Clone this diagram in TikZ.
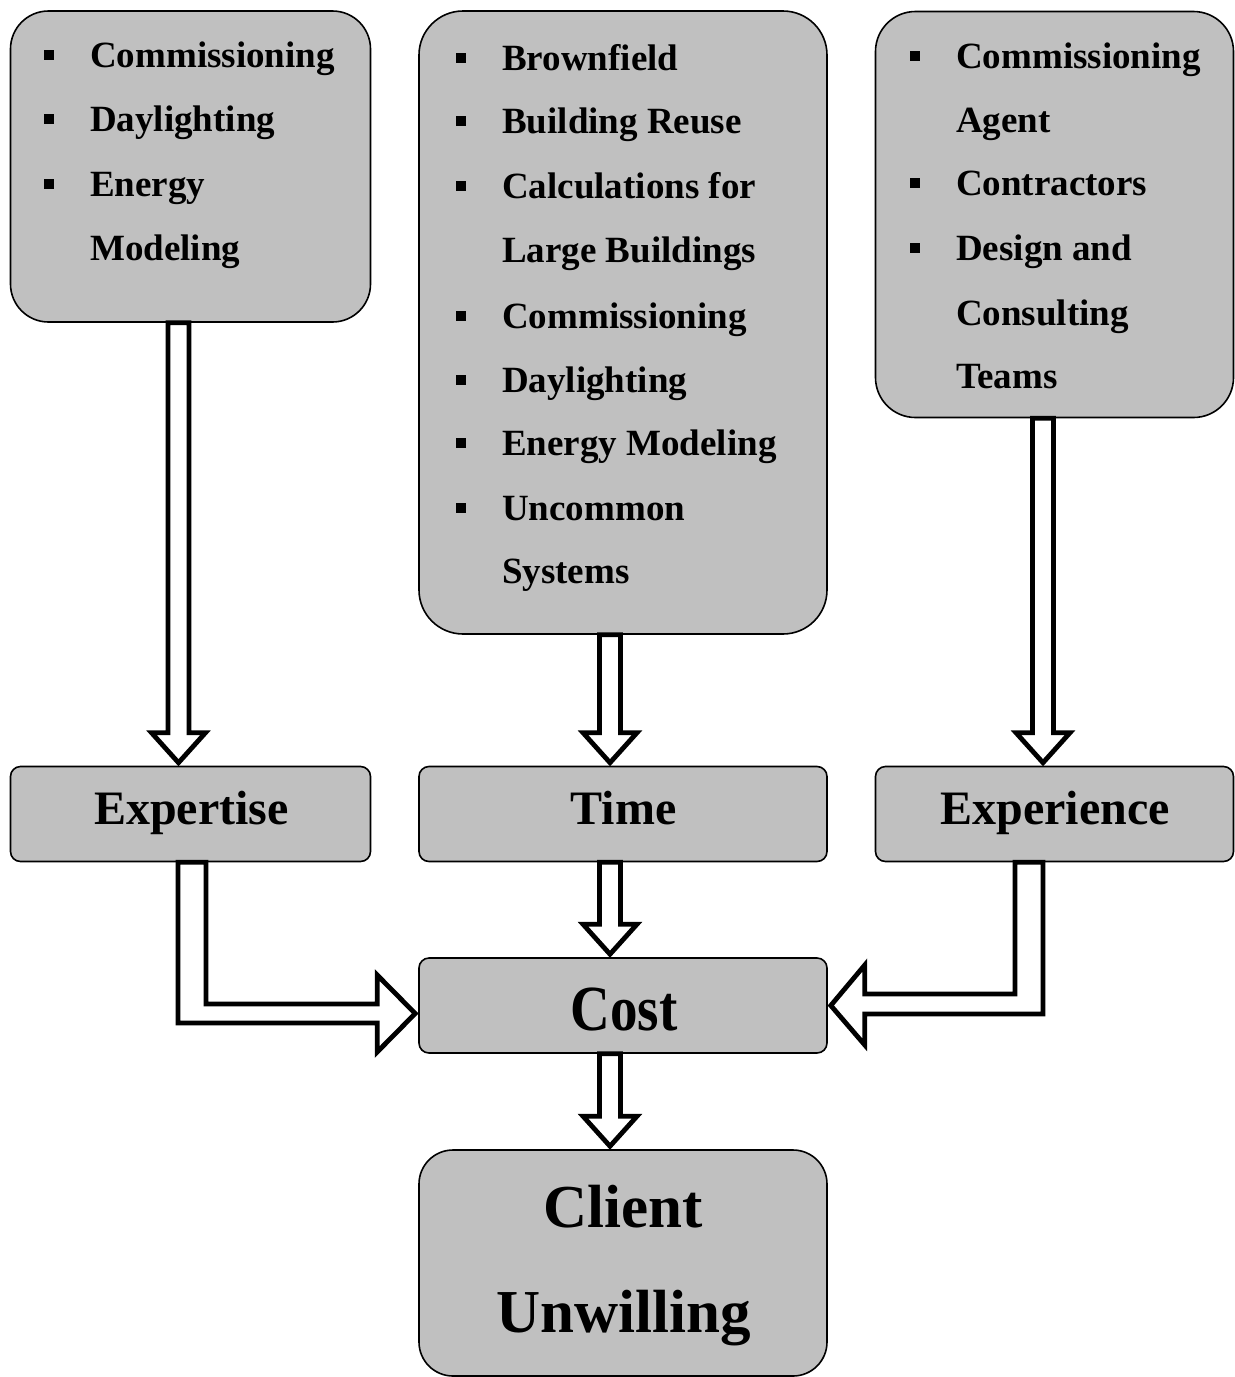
\documentclass[tikz,border=0pt]{standalone}
\usepackage{fontspec}
\usepackage{graphicx}
\setmainfont{Liberation Serif}
\usetikzlibrary{calc}
\definecolor{boxgray}{RGB}{192,192,192}
\tikzset{
  box/.style={draw=black, fill=boxgray, line width=1.6pt, inner sep=0pt, rectangle},
  txt/.style={anchor=base west, inner sep=0pt, font=\fontsize{37}{44}\selectfont\bfseries},
  bul/.style={fill=black, minimum size=9.5pt, inner sep=0pt, rectangle},
  big/.style={anchor=base, inner sep=0pt, font=\fontsize{48}{56}\selectfont\bfseries},
  hollow/.style={draw=black, fill=white, line width=4.8pt, line join=miter, miter limit=10},
}
\newcommand\vhollow[3]{%
  \draw[hollow] ($(#1.south)+(#3-10.5,0)$) -- ($(#2.north)+(#3-10.5,-33)$)
    -- ($(#2.north)+(#3-27,-33)$) -- ($(#2.north)+(#3,-3)$)
    -- ($(#2.north)+(#3+27,-33)$) -- ($(#2.north)+(#3+10.5,-33)$)
    -- ($(#1.south)+(#3+10.5,0)$) -- cycle;}
\begin{document}
\begin{tikzpicture}[x=1pt,y=-1pt]
\useasboundingbox (0,0) rectangle (1235,1377);
% boxes
\node[box, rounded corners=38pt, minimum width=360pt, minimum height=311pt] (tl) at (190.5,166.5) {};
\node[box, rounded corners=44pt, minimum width=408pt, minimum height=623pt] (tm) at (623,322.5) {};
\node[box, rounded corners=40pt, minimum width=358pt, minimum height=406pt] (tr) at (1054.5,214.5) {};
\node[box, rounded corners=10pt, minimum width=360pt, minimum height=95pt] (expertise) at (190.5,814) {};
\node[box, rounded corners=10pt, minimum width=408pt, minimum height=95pt] (time) at (623,814) {};
\node[box, rounded corners=10pt, minimum width=358pt, minimum height=95pt] (experience) at (1054.5,814) {};
\node[box, rounded corners=10pt, minimum width=408pt, minimum height=95pt] (cost) at (623,1005.5) {};
\node[box, rounded corners=34pt, minimum width=408pt, minimum height=226pt] (client) at (623,1263) {};
% left list
\node[bul] (lb1) at (49,55) {};
\node[bul] (lb2) at (49,119) {};
\node[bul] (lb3) at (49,184) {};
\node[txt] (l1) at (90,67) {Commissioning};
\node[txt] (l2) at (90,131) {Daylighting};
\node[txt] (l3) at (90,196) {Energy};
\node[txt] (l4) at (90,260) {Modeling};
% middle list
\node[bul] (mb1) at (461,58) {};
\node[bul] (mb2) at (461,121) {};
\node[bul] (mb3) at (461,186) {};
\node[bul] (mb4) at (461,316) {};
\node[bul] (mb5) at (461,380) {};
\node[bul] (mb6) at (461,443) {};
\node[bul] (mb7) at (461,508) {};
\node[txt] (m1) at (502,70) {Brownfield};
\node[txt] (m2) at (502,133) {Building Reuse};
\node[txt] (m3) at (502,198) {Calculations for};
\node[txt] (m4) at (502,262) {Large Buildings};
\node[txt] (m5) at (502,328) {Commissioning};
\node[txt] (m6) at (502,392) {Daylighting};
\node[txt] (m7) at (502,455) {Energy Modeling};
\node[txt] (m8) at (502,520) {Uncommon};
\node[txt] (m9) at (502,583) {Systems};
% right list
\node[bul] (rb1) at (915,56) {};
\node[bul] (rb2) at (915,183) {};
\node[bul] (rb3) at (915,248) {};
\node[txt] (r1) at (956,68) {Commissioning};
\node[txt] (r2) at (956,132) {Agent};
\node[txt] (r3) at (956,195) {Contractors};
\node[txt] (r4) at (956,260) {Design and};
\node[txt] (r5) at (956,325) {Consulting};
\node[txt] (r6) at (956,388) {Teams};
% big labels
\node[big] (t1) at (191.5,824) {Expertise};
\node[big] (t2) at (623.5,824) {Time};
\node[big] (t3) at (1055,824) {Experience};
\node[big, font=\fontsize{55}{60}\selectfont\bfseries] (t4) at (624,1030) {\scalebox{1}[1.17]{Cost}};
\node[big, font=\fontsize{61}{70}\selectfont\bfseries] (t5) at (623.5,1227) {Client};
\node[big, font=\fontsize{61}{70}\selectfont\bfseries] (t6) at (623.5,1332) {Unwilling};
% vertical hollow arrows
\vhollow{tl}{expertise}{-12}
\vhollow{tm}{time}{-13}
\vhollow{tr}{experience}{-11.5}
\vhollow{time}{cost}{-13}
\vhollow{cost}{client}{-13}
% left elbow arrow
\coordinate (a1) at ($(expertise.south)+(-12.5,0)$);
\coordinate (a2) at ($(expertise.south)+(15.5,0)$);
\coordinate (h1) at ($(cost.west)+(-41,-1.5)$);
\coordinate (h2) at ($(cost.west)+(-41,17.5)$);
\coordinate (h3) at ($(cost.west)+(-41,46.5)$);
\coordinate (h4) at ($(cost.west)+(-41,-30.5)$);
\coordinate (tipL) at ($(cost.west)+(-3,8)$);
\draw[hollow] (a1) -- (a1 |- h2) -- (h2) -- (h3) -- (tipL) -- (h4) -- (h1) -- (a2 |- h1) -- (a2) -- cycle;
% right elbow arrow
\coordinate (b1) at ($(experience.south)+(-39.5,0)$);
\coordinate (b2) at ($(experience.south)+(-11.5,0)$);
\coordinate (g1) at ($(cost.east)+(37,-11.5)$);
\coordinate (g2) at ($(cost.east)+(37,8.5)$);
\coordinate (g3) at ($(cost.east)+(37,-40.5)$);
\coordinate (g4) at ($(cost.east)+(37,39.5)$);
\coordinate (tipR) at ($(cost.east)+(3,0)$);
\draw[hollow] (b1) -- (b1 |- g1) -- (g1) -- (g3) -- (tipR) -- (g4) -- (g2) -- (b2 |- g2) -- (b2) -- cycle;
\end{tikzpicture}
\end{document}
